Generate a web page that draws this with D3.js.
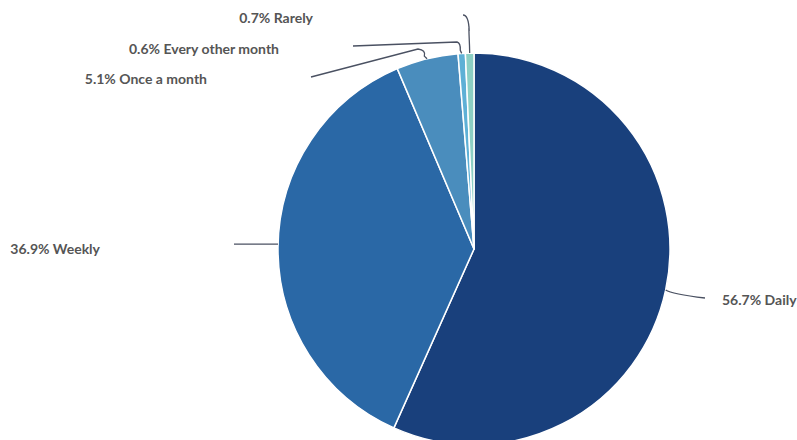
<!DOCTYPE html>
<html>
<head>
<meta charset="utf-8">
<script src="https://cdn.jsdelivr.net/npm/d3@7"></script>
<style>
  html, body { margin: 0; padding: 0; background: #fff; }
  svg { display: block; }
  .lbl { font-family: Lato, "Noto Sans", sans-serif; font-weight: 700; font-size: 14px; fill: #555; }
</style>
</head>
<body>
<svg id="chart" width="797" height="440"></svg>
<script>
// Share of respondents by frequency
const categories = ["Daily", "Weekly", "Once a month", "Every other month", "Rarely"];
const shares = [56.7, 36.9, 5.1, 0.6, 0.7];
const colors = ["#19407c", "#2a68a6", "#4a8dbd", "#5eb0d6", "#8ccfc4"];

const W = 797, H = 440;
const cx = 474, cy = 249, R = 196;

const svg = d3.select("#chart");
const g = svg.append("g").attr("transform", `translate(${cx},${cy})`);

const pie = d3.pie().sort(null).value(d => d.value);
const arc = d3.arc().innerRadius(0).outerRadius(R);

const data = categories.map((c, i) => ({ name: c, value: shares[i], color: colors[i] }));
const arcs = pie(data);

g.selectAll("path.slice")
  .data(arcs)
  .join("path")
  .attr("class", "slice")
  .attr("d", arc)
  .attr("fill", d => d.data.color)
  .attr("stroke", "#fff")
  .attr("stroke-width", 1.5)
  .attr("stroke-linejoin", "round");

// Point on the rim at the middle angle of a slice (relative to centre)
function rim(d) {
  const a = (d.startAngle + d.endAngle) / 2;
  return [R * Math.sin(a), -R * Math.cos(a)];
}

// Leader routing and label placement (relative to centre)
const leaders = [
  { elbow: null, ctrl: [20, 6], end: [231, 49], label: [248, 56], anchor: "start" },
  { elbow: null, ctrl: null, end: [-240, -2], label: [-374, 5], anchor: "end" },
  { elbow: [-56, -199], ctrl: [-48, -200], end: [-163, -172], label: [-267, -165], anchor: "end" },
  { elbow: [-17, -206], ctrl: [-12, -207], end: [-121, -203], label: [-195, -195], anchor: "end" },
  { elbow: [-5, -222], ctrl: [-5, -234], end: [-11, -234], label: [-161, -226], anchor: "end" }
];

const lineGen = (d, i) => {
  const p0 = rim(d);
  const L = leaders[i];
  const p = d3.path();
  if (i === 0) {
    p.moveTo(p0[0], p0[1]);
    p.quadraticCurveTo(p0[0] + 6, p0[1] + 4, L.end[0], L.end[1]);
  } else if (i === 1) {
    // weekly leader runs flat to the left
    p.moveTo(p0[0], p0[1] - 3);
    p.lineTo(L.end[0], p0[1] - 3);
  } else {
    const e = L.elbow;
    p.moveTo(p0[0], p0[1]);
    p.lineTo(p0[0] + (e[0] - p0[0]) * 0.3, p0[1] + (e[1] - p0[1]) * 0.3);
    p.quadraticCurveTo(p0[0] - 1, e[1], e[0], e[1] - (i === 4 ? 0 : 1));
    if (i === 4) {
      p.lineTo(p0[0] - 0.5, L.ctrl[1] + 16);
      p.quadraticCurveTo(p0[0] - 1, L.ctrl[1], L.end[0], L.end[1]);
    } else {
      p.lineTo(L.end[0], L.end[1]);
    }
  }
  return p.toString();
};

g.selectAll("path.leader")
  .data(arcs)
  .join("path")
  .attr("class", "leader")
  .attr("d", lineGen)
  .attr("fill", "none")
  .attr("stroke", "#4a5162")
  .attr("stroke-width", 1.3);

const fmt = d3.format(".1f");
g.selectAll("text.lbl")
  .data(arcs)
  .join("text")
  .attr("class", "lbl")
  .attr("x", (d, i) => leaders[i].label[0])
  .attr("y", (d, i) => leaders[i].label[1])
  .attr("text-anchor", (d, i) => leaders[i].anchor)
  .text(d => `${fmt(d.data.value)}% ${d.data.name}`);
</script>
</body>
</html>
